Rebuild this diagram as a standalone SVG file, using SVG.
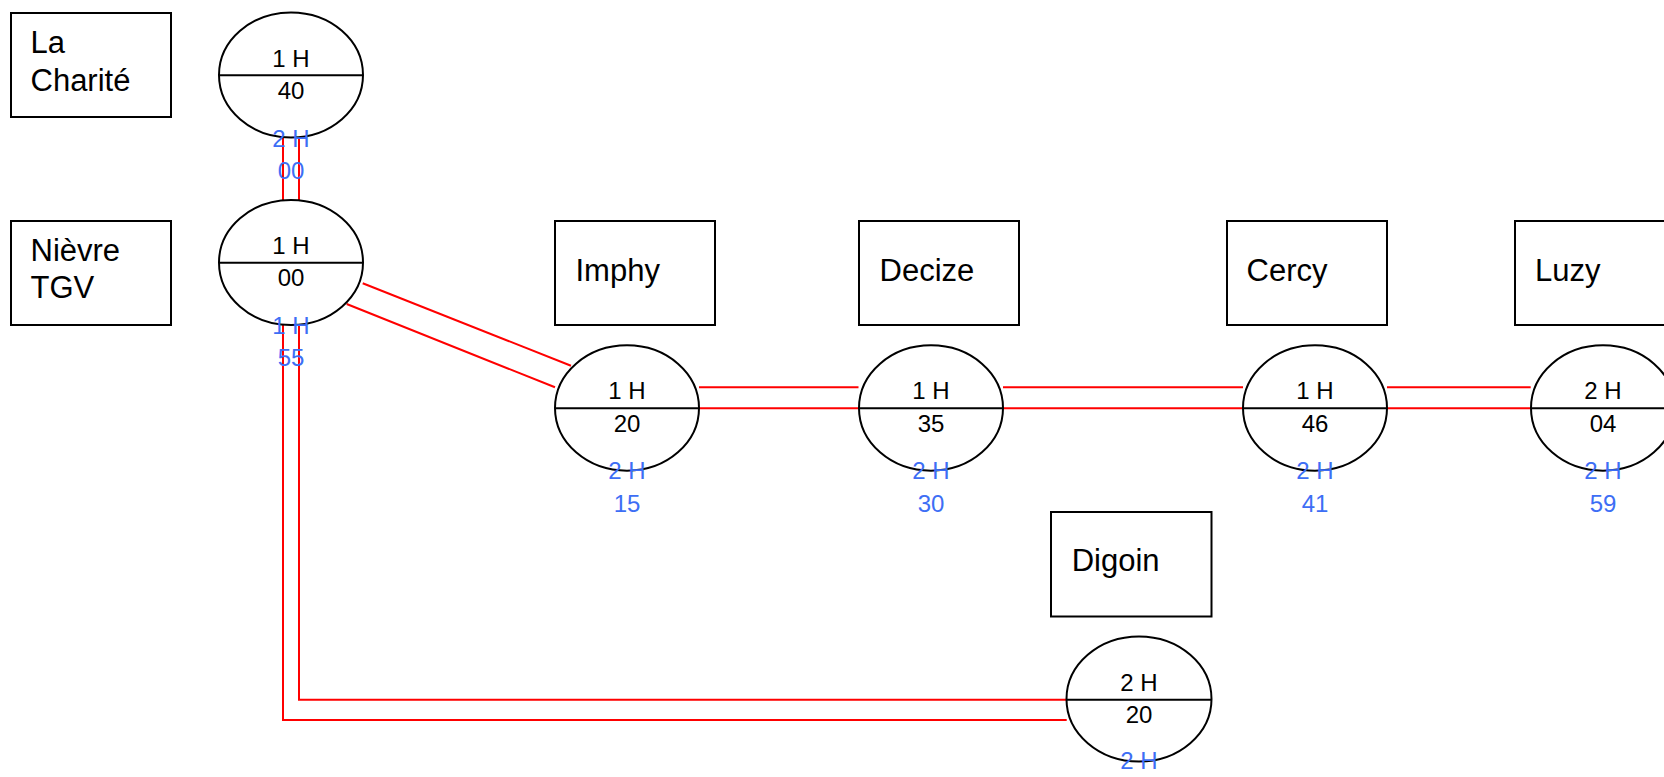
<svg xmlns="http://www.w3.org/2000/svg" width="1664" height="777" viewBox="0 0 1664 777">
<style>
.box{fill:#fff;stroke:#000;stroke-width:2}
.ell{fill:#fff;stroke:#000;stroke-width:2}
.div{stroke:#000;stroke-width:2}
.name{font-family:"Liberation Sans",Arial,sans-serif;font-size:31px;fill:#000}
.t{font-family:"Liberation Sans",Arial,sans-serif;font-size:24px;fill:#000;text-anchor:middle}
.b{font-family:"Liberation Sans",Arial,sans-serif;font-size:24px;fill:#3d6ef5;text-anchor:middle}
.c{fill:none;stroke:#ff0000;stroke-width:2}
</style>
<rect width="1664" height="777" fill="#fff"/>
<g id="connectors">
<line class="c" x1="283" y1="137" x2="283" y2="200"/>
<line class="c" x1="299" y1="137" x2="299" y2="200"/>
<line class="c" x1="362.7" y1="283.3" x2="571" y2="365.7"/>
<line class="c" x1="346.7" y1="304" x2="555" y2="387.3"/>
<line class="c" x1="699" y1="387.3" x2="858.5" y2="387.3"/>
<line class="c" x1="699" y1="408.3" x2="859" y2="408.3"/>
<line class="c" x1="1003" y1="387.3" x2="1243" y2="387.3"/>
<line class="c" x1="1003" y1="408.3" x2="1243" y2="408.3"/>
<line class="c" x1="1387" y1="387.3" x2="1530.7" y2="387.3"/>
<line class="c" x1="1387" y1="408.3" x2="1531" y2="408.3"/>
<polyline class="c" points="299,325 299,699.7 1066.7,699.7"/>
<polyline class="c" points="283,325 283,720 1066.7,720"/>
</g>
<g id="label-la-charite">
<rect class="box" x="11" y="13" width="160" height="104"/>
<text class="name" x="30.5" y="52.7">La</text>
<text class="name" x="30.5" y="90.7">Charité</text>
</g>
<g id="node-la-charite">
<ellipse class="ell" cx="291" cy="75" rx="72" ry="62.5"/>
<line class="div" x1="219" y1="75.3" x2="363" y2="75.3"/>
<text class="t" x="291" y="66.5">1 H</text>
<text class="t" x="291" y="99">40</text>
<text class="b" x="291" y="146.7">2 H</text>
<text class="b" x="291" y="179">00</text>
</g>
<g id="label-nievre-tgv">
<rect class="box" x="11" y="221" width="160" height="104"/>
<text class="name" x="30.5" y="260.7">Nièvre</text>
<text class="name" x="30.5" y="298.3">TGV</text>
</g>
<g id="node-nievre-tgv">
<ellipse class="ell" cx="291" cy="262.5" rx="72" ry="62.5"/>
<line class="div" x1="219" y1="262.7" x2="363" y2="262.7"/>
<text class="t" x="291" y="253.5">1 H</text>
<text class="t" x="291" y="285.7">00</text>
<text class="b" x="291" y="333.5">1 H</text>
<text class="b" x="291" y="365.7">55</text>
</g>
<g id="label-imphy">
<rect class="box" x="555" y="221" width="160" height="104"/>
<text class="name" x="575.5" y="280.7">Imphy</text>
</g>
<g id="node-imphy">
<ellipse class="ell" cx="627" cy="408" rx="72" ry="62.7"/>
<line class="div" x1="555" y1="408.3" x2="699" y2="408.3"/>
<text class="t" x="627" y="399.3">1 H</text>
<text class="t" x="627" y="431.7">20</text>
<text class="b" x="627" y="479.3">2 H</text>
<text class="b" x="627" y="511.7">15</text>
</g>
<g id="label-decize">
<rect class="box" x="859" y="221" width="160" height="104"/>
<text class="name" x="879.5" y="280.7">Decize</text>
</g>
<g id="node-decize">
<ellipse class="ell" cx="931" cy="408" rx="72" ry="62.7"/>
<line class="div" x1="859" y1="408.3" x2="1003" y2="408.3"/>
<text class="t" x="931" y="399.3">1 H</text>
<text class="t" x="931" y="431.7">35</text>
<text class="b" x="931" y="479.3">2 H</text>
<text class="b" x="931" y="511.7">30</text>
</g>
<g id="label-cercy">
<rect class="box" x="1227" y="221" width="160" height="104"/>
<text class="name" x="1246.5" y="280.7">Cercy</text>
</g>
<g id="node-cercy">
<ellipse class="ell" cx="1315" cy="408" rx="72" ry="62.7"/>
<line class="div" x1="1243" y1="408.3" x2="1387" y2="408.3"/>
<text class="t" x="1315" y="399.3">1 H</text>
<text class="t" x="1315" y="431.7">46</text>
<text class="b" x="1315" y="479.3">2 H</text>
<text class="b" x="1315" y="511.7">41</text>
</g>
<g id="label-luzy">
<rect class="box" x="1515" y="221" width="160" height="104"/>
<text class="name" x="1535" y="280.7">Luzy</text>
</g>
<g id="node-luzy">
<ellipse class="ell" cx="1603" cy="408" rx="72" ry="62.7"/>
<line class="div" x1="1531" y1="408.3" x2="1675" y2="408.3"/>
<text class="t" x="1603" y="399.3">2 H</text>
<text class="t" x="1603" y="431.7">04</text>
<text class="b" x="1603" y="479.3">2 H</text>
<text class="b" x="1603" y="511.7">59</text>
</g>
<g id="label-digoin">
<rect class="box" x="1051" y="512" width="160.5" height="104.5"/>
<text class="name" x="1071.7" y="571">Digoin</text>
</g>
<g id="node-digoin">
<ellipse class="ell" cx="1139" cy="699" rx="72.5" ry="62.5"/>
<line class="div" x1="1066.5" y1="699.7" x2="1211.5" y2="699.7"/>
<text class="t" x="1139" y="690.7">2 H</text>
<text class="t" x="1139" y="722.7">20</text>
<text class="b" x="1139" y="768.5">2 H</text>
</g>
</svg>
